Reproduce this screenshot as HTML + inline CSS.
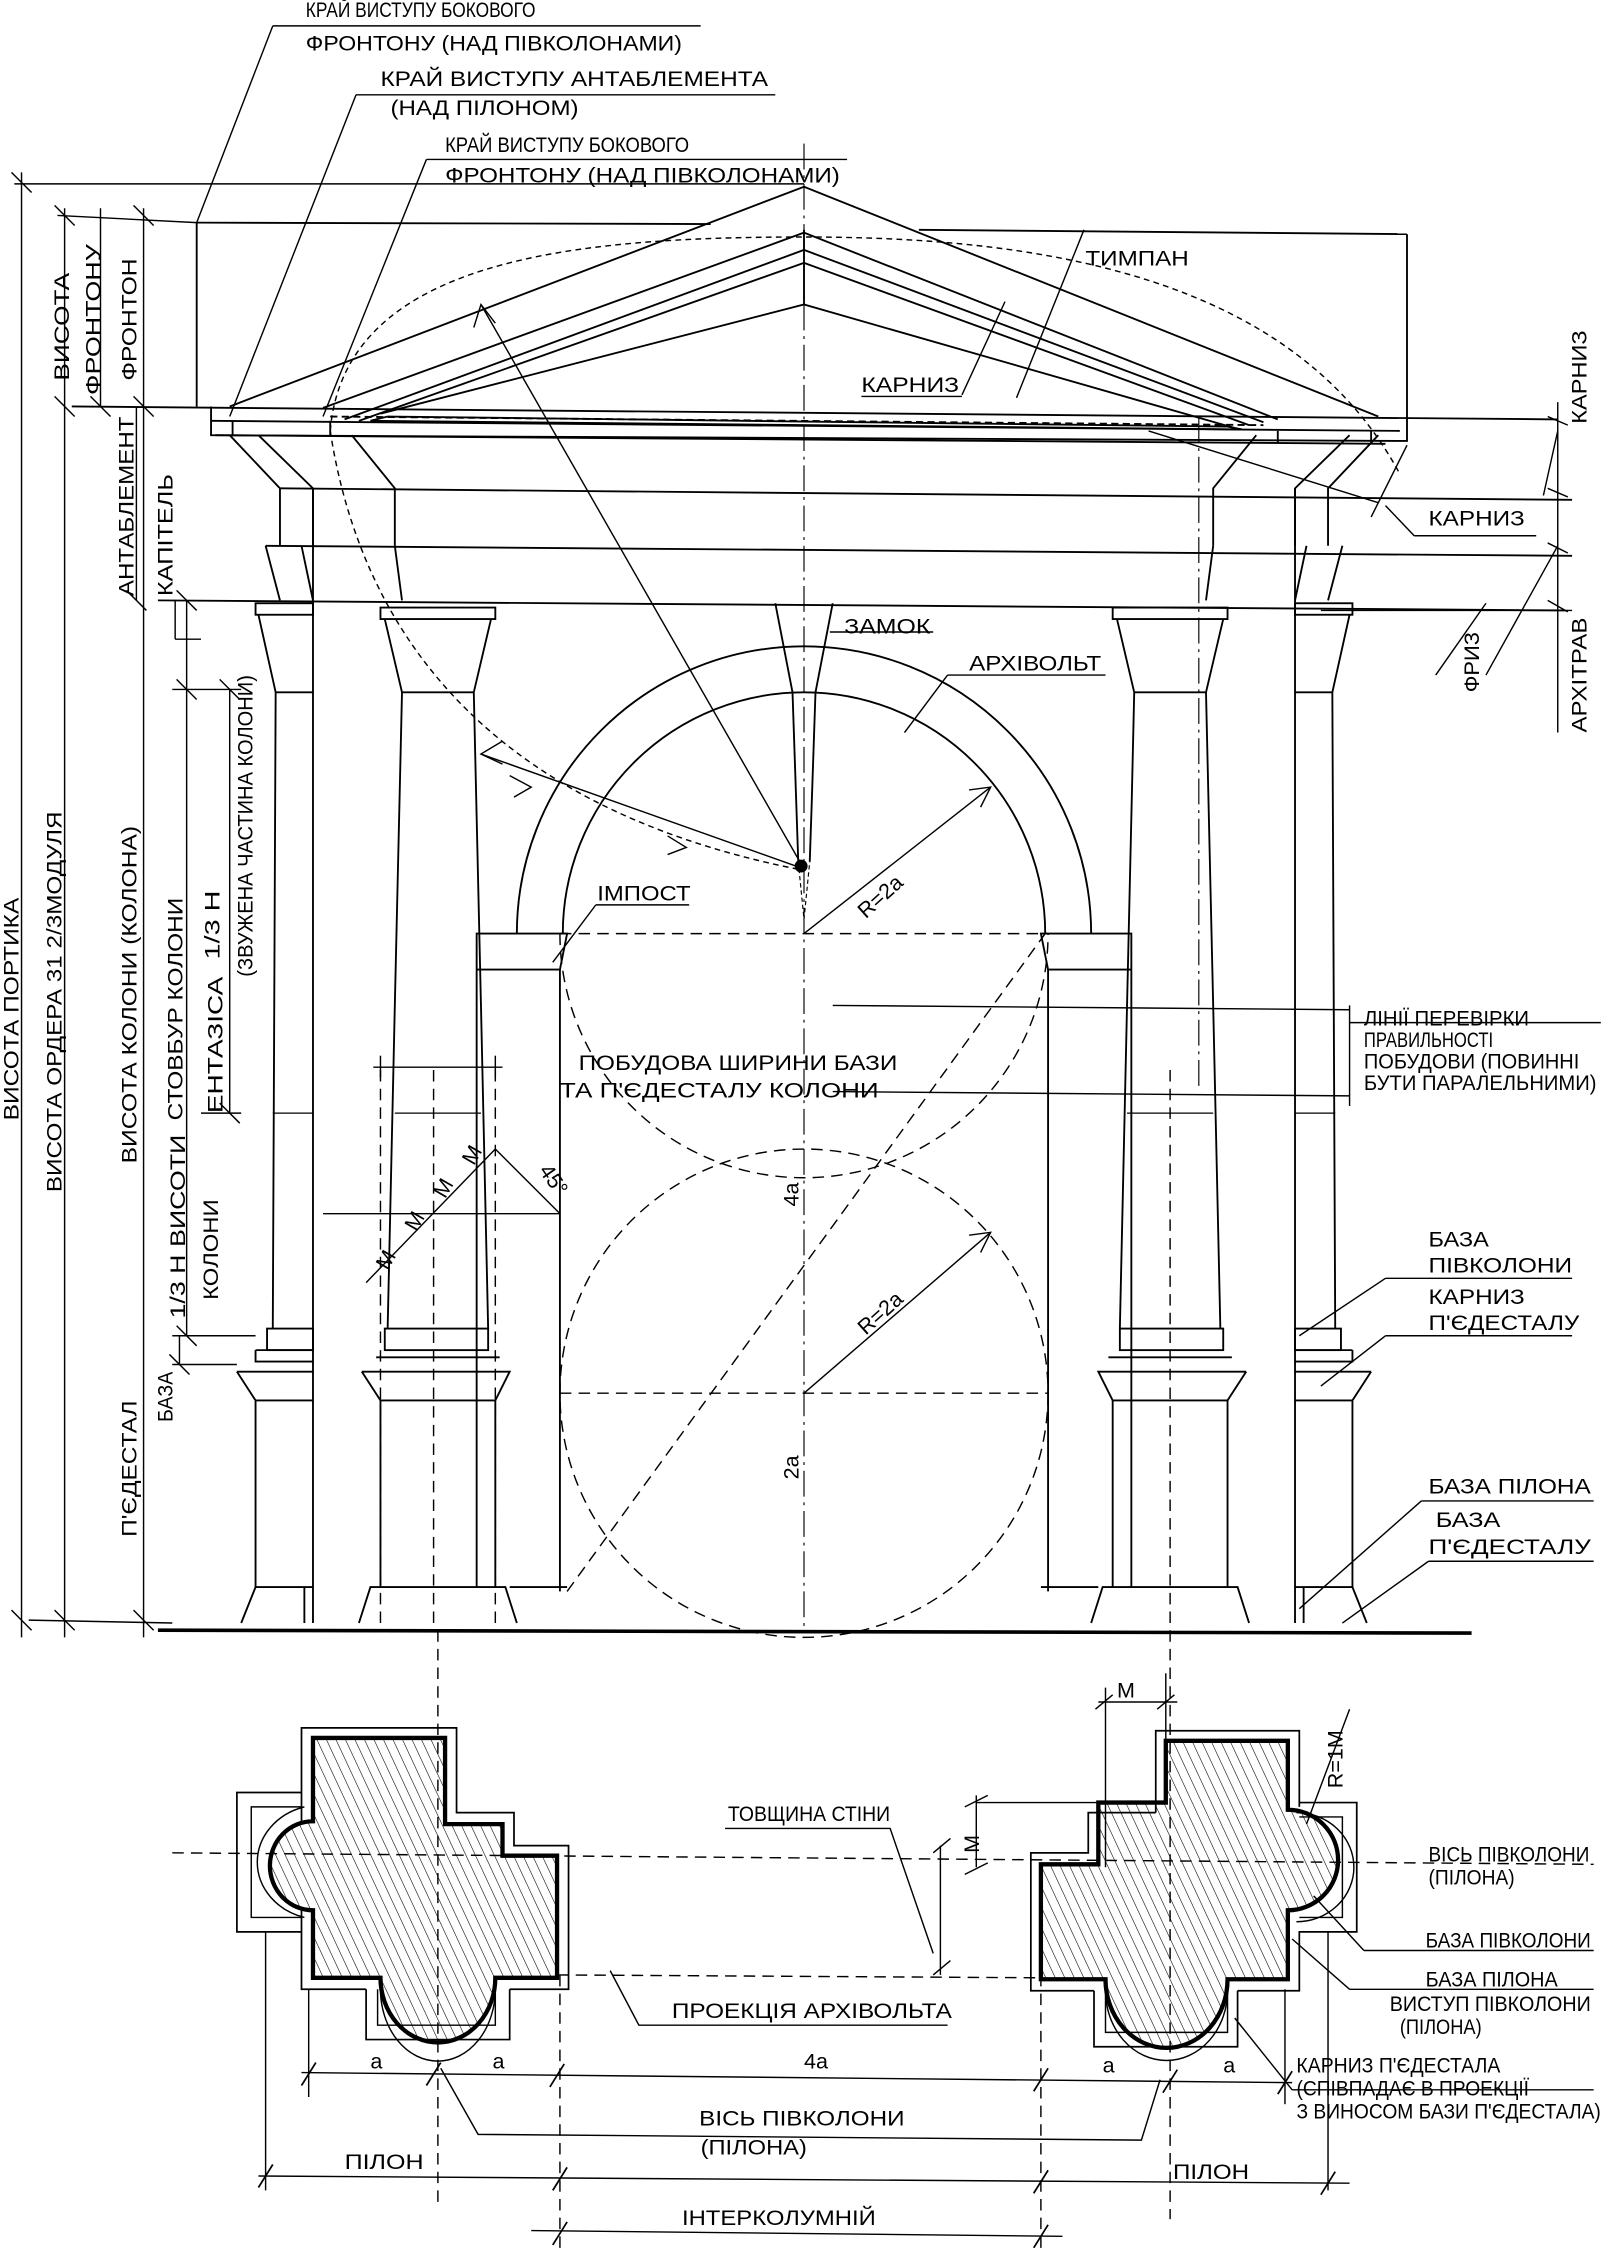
<!DOCTYPE html>
<html><head><meta charset="utf-8"><style>
html,body{margin:0;padding:0;background:#fff}
svg{display:block}
text{font-family:"Liberation Sans Narrow","Liberation Sans",sans-serif;font-size:15px;fill:#000}
.s{font-family:"Liberation Sans",sans-serif}
</style></head><body>
<svg width="1608" height="2255" viewBox="0 0 1120 1570" preserveAspectRatio="none" xmlns="http://www.w3.org/2000/svg">
<defs>
<pattern id="h" width="6" height="6" patternUnits="userSpaceOnUse" patternTransform="rotate(-25)">
<line x1="0" y1="0" x2="0" y2="6" stroke="#000" stroke-width="0.8"/></pattern>
<g id="half" fill="none" stroke="#000" stroke-width="1.3">
 <polyline points="160,303 195,340 195,380"/>
 <polyline points="180,303 218,340 218,380"/>
 <polyline points="245,303 275,340 275,380"/>
 <polyline points="185,380 195,418"/><polyline points="210,380 218,418"/><polyline points="275,380 280,418"/>
 <rect x="178" y="420" width="40" height="8"/>
 <polyline points="180,428 192,482 190,925"/>
 <line x1="192" y1="482" x2="218" y2="482"/>
 <line x1="190" y1="775" x2="218" y2="775" stroke-width="0.8"/>
 <rect x="186" y="925" width="32" height="15"/>
 <line x1="178" y1="940" x2="218" y2="940"/>
 <polyline points="178,940 178,948 218,948"/>
 <polyline points="165,955 178,975 178,1105"/><line x1="165" y1="955" x2="218" y2="955"/>
 <line x1="178" y1="975" x2="218" y2="975"/>
 <polyline points="168,1130 178,1105 218,1105"/><line x1="212" y1="1105" x2="212" y2="1130"/>
 <line x1="218" y1="340" x2="218" y2="1130"/>
 <rect x="265" y="423" width="80" height="8"/>
 <polyline points="268,431 280,482 275,700 270,925"/>
 <polyline points="342,431 330,482 335,700 340,925"/>
 <line x1="280" y1="482" x2="330" y2="482"/>
 <line x1="275" y1="775" x2="335" y2="775" stroke-width="0.8"/>
 <rect x="268" y="925" width="72" height="15"/>
 <line x1="262" y1="945" x2="348" y2="945"/>
 <polyline points="252,955 355,955 345,975 265,975 252,955"/>
 <line x1="265" y1="975" x2="265" y2="1105"/><line x1="345" y1="975" x2="345" y2="1105"/>
 <polyline points="250,1130 258,1105 352,1105 360,1130"/>
 <polyline points="332,1105 332,650 395,650 390,675 332,675"/>
 <line x1="390" y1="675" x2="390" y2="1108"/>
 <line x1="355" y1="1105" x2="395" y2="1105"/>
</g>
</defs>

<g fill="none" stroke="#000" stroke-width="1.3">
<line x1="137" y1="155" x2="495" y2="156"/><line x1="640" y1="160" x2="980" y2="163"/>
<line x1="980" y1="163" x2="980" y2="290"/>
<line x1="137" y1="155" x2="137" y2="283"/>
<polyline points="160,283 560,130 960,290"/>
<polyline points="225,284 560,162 890,292"/>
<polyline points="240,292 560,174 880,294"/>
<polyline points="250,293 560,183 870,296"/>
<polyline points="265,288 560,212 860,298"/>
<line x1="560" y1="160" x2="560" y2="212"/>
<polyline points="258,293 270,290 855,297 865,299 258,293"/>
<line x1="50" y1="283" x2="1085" y2="292"/>
<line x1="147" y1="293" x2="975" y2="300"/>
<polyline points="147,283 147,303 980,307 980,290"/>
<line x1="162" y1="293" x2="162" y2="303"/><line x1="230" y1="293" x2="230" y2="303"/>
<line x1="890" y1="300" x2="890" y2="308"/><line x1="955" y1="300" x2="955" y2="308"/>
<line x1="230" y1="290" x2="880" y2="296" stroke-dasharray="5,3"/>
<line x1="150" y1="303" x2="965" y2="309"/>
<line x1="195" y1="340" x2="1095" y2="348"/>
<line x1="185" y1="380" x2="1095" y2="387"/>
<line x1="110" y1="418" x2="1090" y2="425"/>
<use href="#half"/>
<use href="#half" transform="translate(1120,0) scale(-1,1)"/>
<path d="M360,650 A200,200 0 0 1 760,650"/>
<path d="M392,650 A168,168 0 0 1 728,650"/>
<polyline points="540,420 552,482 556,600"/><polyline points="580,420 568,482 564,600"/>
<polyline points="556,600 560,640 564,600" stroke-width="0.8" stroke-dasharray="3,2"/>
<line x1="110" y1="1135" x2="1025" y2="1137" stroke-width="2.5"/>
</g>

<g fill="none" stroke="#000" stroke-width="1" stroke-dasharray="8,5">
<path d="M390,650 A170,170 0 0 0 730,650"/>
<circle cx="560" cy="970" r="170"/>
<line x1="390" y1="650" x2="730" y2="650"/>
<line x1="390" y1="970" x2="730" y2="970"/>
<line x1="395" y1="1108" x2="728" y2="650"/>
<line x1="305" y1="1135" x2="305" y2="1535"/>
<line x1="815" y1="1135" x2="815" y2="1545"/>
<line x1="302" y1="745" x2="302" y2="1135"/>
<line x1="815" y1="745" x2="815" y2="1135"/>
<line x1="265" y1="745" x2="265" y2="1135"/>
<line x1="345" y1="745" x2="345" y2="1135"/>
<path d="M230,300 C240,180 400,165 560,165 C720,165 900,190 975,330" stroke-dasharray="4,3"/>
<path d="M230,300 C250,430 330,560 555,605" stroke-dasharray="4,3"/>
<line x1="120" y1="1290" x2="1110" y2="1298"/>
<line x1="388" y1="1375" x2="725" y2="1377"/>
</g>
<g fill="none" stroke="#000" stroke-width="0.8" stroke-dasharray="18,4,2,4">
<line x1="560" y1="100" x2="560" y2="1135"/>
<line x1="835" y1="290" x2="835" y2="760"/>
</g>
<g fill="none" stroke="#000" stroke-width="1">
<line x1="560" y1="650" x2="690" y2="548"/><polyline points="675,550 690,548 683,562"/>
<line x1="560" y1="970" x2="690" y2="858"/><polyline points="675,860 690,858 683,872"/>
<line x1="560" y1="605" x2="335" y2="212"/><polyline points="330,228 335,212 345,225"/>
<line x1="560" y1="605" x2="335" y2="525"/><polyline points="350,516 335,525 350,532"/>
<polyline points="355,540 370,548 358,555"/><polyline points="465,582 478,590 465,595"/>
<circle cx="558" cy="603" r="4" fill="#000"/>
<line x1="225" y1="845" x2="390" y2="845"/>
<line x1="345" y1="800" x2="390" y2="845"/>
<line x1="255" y1="893" x2="345" y2="800"/>
<line x1="260" y1="743" x2="350" y2="743"/>
<line x1="265" y1="735" x2="265" y2="750"/><line x1="345" y1="735" x2="345" y2="750"/>
<line x1="755" y1="160" x2="708" y2="277"/>
<line x1="700" y1="210" x2="670" y2="275"/>
<line x1="578" y1="440" x2="650" y2="440"/>
<line x1="660" y1="470" x2="770" y2="470"/><line x1="660" y1="470" x2="630" y2="510"/>
<line x1="415" y1="630" x2="480" y2="630"/><line x1="415" y1="630" x2="385" y2="670"/>
<line x1="580" y1="700" x2="940" y2="703"/><line x1="580" y1="760" x2="940" y2="763"/>
<line x1="940" y1="700" x2="940" y2="770"/><line x1="940" y1="712" x2="1115" y2="712"/>
<line x1="800" y1="300" x2="960" y2="350"/>
<line x1="955" y1="360" x2="980" y2="310"/><line x1="965" y1="352" x2="985" y2="373"/>
<line x1="985" y1="373" x2="1070" y2="373"/>
<line x1="1085" y1="280" x2="1085" y2="510"/>
<line x1="920" y1="425" x2="1095" y2="425"/>
<line x1="1078" y1="290" x2="1092" y2="296"/><line x1="1078" y1="340" x2="1092" y2="346"/>
<line x1="1078" y1="378" x2="1092" y2="385"/><line x1="1078" y1="418" x2="1092" y2="426"/>
<line x1="1035" y1="470" x2="1085" y2="380"/>
<line x1="1075" y1="345" x2="1085" y2="300"/>
<line x1="1035" y1="420" x2="1000" y2="470"/>
<line x1="905" y1="930" x2="965" y2="890"/><line x1="965" y1="890" x2="1095" y2="890"/>
<line x1="920" y1="965" x2="965" y2="930"/><line x1="965" y1="930" x2="1095" y2="930"/>
<line x1="905" y1="1120" x2="990" y2="1045"/><line x1="990" y1="1045" x2="1110" y2="1045"/>
<line x1="935" y1="1130" x2="995" y2="1087"/><line x1="995" y1="1087" x2="1110" y2="1087"/>
<line x1="190" y1="18" x2="488" y2="18"/><line x1="190" y1="18" x2="137" y2="155"/>
<line x1="248" y1="66" x2="540" y2="66"/><line x1="248" y1="66" x2="160" y2="290"/>
<line x1="297" y1="111" x2="590" y2="111"/><line x1="297" y1="111" x2="225" y2="290"/>
<line x1="10" y1="128" x2="560" y2="128"/>
<line x1="40" y1="150" x2="137" y2="155"/>
<line x1="600" y1="276" x2="670" y2="276"/>
<line x1="15" y1="120" x2="15" y2="1140"/>
<line x1="45" y1="145" x2="45" y2="1140"/>
<line x1="70" y1="145" x2="70" y2="283"/>
<line x1="100" y1="145" x2="100" y2="1140"/>
<line x1="95" y1="283" x2="95" y2="418"/>
<line x1="130" y1="418" x2="130" y2="930"/>
<line x1="160" y1="480" x2="160" y2="775"/>
<line x1="125" y1="930" x2="125" y2="950"/>
<line x1="122" y1="418" x2="122" y2="445"/><line x1="122" y1="445" x2="140" y2="445"/>
<line x1="120" y1="480" x2="168" y2="480"/><line x1="140" y1="775" x2="168" y2="775"/>
<line x1="120" y1="930" x2="178" y2="930"/><line x1="120" y1="950" x2="165" y2="950"/>
<line x1="20" y1="1128" x2="120" y2="1130"/>
<line x1="8" y1="120" x2="22" y2="134"/><line x1="38" y1="143" x2="52" y2="157"/><line x1="93" y1="143" x2="107" y2="157"/>
<line x1="38" y1="276" x2="52" y2="290"/><line x1="93" y1="276" x2="107" y2="290"/><line x1="63" y1="276" x2="77" y2="290"/>
<line x1="88" y1="411" x2="102" y2="425"/><line x1="123" y1="411" x2="137" y2="425"/>
<line x1="123" y1="473" x2="137" y2="487"/><line x1="153" y1="473" x2="167" y2="487"/>
<line x1="153" y1="768" x2="167" y2="782"/><line x1="123" y1="923" x2="137" y2="937"/>
<line x1="118" y1="943" x2="132" y2="957"/>
<line x1="8" y1="1121" x2="22" y2="1135"/><line x1="38" y1="1121" x2="52" y2="1135"/><line x1="93" y1="1121" x2="107" y2="1135"/>
</g>

<g stroke="#000" fill="none">
<path d="M218,1210 H310 V1270 H350 V1292 H388 V1377 H345 A40,45 0 0 1 265,1377 H218 V1330 A30,31 0 0 1 218,1268 Z" fill="url(#h)" stroke-width="3"/>
<polyline points="210,1268 210,1203 318,1203 318,1262 358,1262 358,1285 396,1285 396,1385 355,1385" stroke-width="1.2"/>
<polyline points="210,1330 210,1385 255,1385" stroke-width="1.2"/>
<polyline points="210,1248 165,1248 165,1345 210,1345" stroke-width="1.2"/>
<polyline points="210,1258 175,1258 175,1335 210,1335" stroke-width="1"/>
<path d="M212,1258 A45,40 0 0 0 212,1335" stroke-width="1"/>
<polyline points="255,1385 255,1420 355,1420 355,1385" stroke-width="1.2"/>
<polyline points="263,1385 263,1410 345,1410 345,1385" stroke-width="1"/>
<path d="M265,1385 A40,50 0 0 0 345,1385" stroke-width="1"/>
</g>
<g stroke="#000" fill="none">
<path d="M812,1212 H897 V1260 A35,35 0 0 1 897,1330 V1378 H855 A40,45 0 0 1 770,1378 H725 V1298 H765 V1255 H812 Z" fill="url(#h)" stroke-width="3"/>
<polyline points="805,1262 805,1205 905,1205 905,1258" stroke-width="1.2"/>
<polyline points="805,1262 758,1262 758,1290 718,1290 718,1386 762,1386" stroke-width="1.2"/>
<polyline points="905,1255 945,1255 945,1345 905,1345 905,1386 862,1386" stroke-width="1.2"/>
<polyline points="905,1265 935,1265 935,1335 905,1335" stroke-width="1"/>
<path d="M903,1262 A40,38 0 0 1 903,1338" stroke-width="1"/>
<polyline points="762,1386 762,1425 862,1425 862,1386" stroke-width="1.2"/>
<polyline points="770,1386 770,1415 855,1415 855,1386" stroke-width="1"/>
<path d="M770,1386 A42,48 0 0 0 855,1386" stroke-width="1"/>
</g>
<g fill="none" stroke="#000" stroke-width="1">
<line x1="390" y1="1375" x2="390" y2="1568" stroke-dasharray="8,5"/>
<line x1="725" y1="1375" x2="725" y2="1568" stroke-dasharray="8,5"/>
<line x1="215" y1="1385" x2="215" y2="1460"/>
<line x1="895" y1="1385" x2="895" y2="1465"/>
<line x1="185" y1="1345" x2="185" y2="1525"/>
<line x1="925" y1="1345" x2="925" y2="1525"/>
<line x1="210" y1="1443" x2="900" y2="1450"/>
<line x1="180" y1="1515" x2="940" y2="1520"/>
<line x1="370" y1="1553" x2="740" y2="1557"/>
<g stroke-width="1.2">
<line x1="210" y1="1452" x2="220" y2="1436"/><line x1="297" y1="1452" x2="307" y2="1436"/><line x1="383" y1="1453" x2="393" y2="1437"/>
<line x1="720" y1="1456" x2="730" y2="1440"/><line x1="810" y1="1457" x2="820" y2="1441"/><line x1="890" y1="1458" x2="900" y2="1442"/>
<line x1="180" y1="1523" x2="190" y2="1507"/><line x1="385" y1="1525" x2="395" y2="1509"/><line x1="720" y1="1527" x2="730" y2="1511"/><line x1="920" y1="1528" x2="930" y2="1512"/>
<line x1="385" y1="1563" x2="395" y2="1547"/><line x1="720" y1="1565" x2="730" y2="1549"/>
</g>
<polyline points="307,1440 333,1486 795,1490 808,1448"/>
<polyline points="425,1372 445,1410 660,1410"/>
<polyline points="505,1273 620,1273 650,1360"/>
<line x1="655" y1="1285" x2="655" y2="1375"/>
<line x1="650" y1="1290" x2="662" y2="1280"/><line x1="650" y1="1375" x2="662" y2="1365"/>
<line x1="680" y1="1250" x2="680" y2="1300"/><line x1="672" y1="1258" x2="688" y2="1250"/><line x1="672" y1="1305" x2="688" y2="1297"/>
<line x1="680" y1="1255" x2="765" y2="1255"/>
<line x1="770" y1="1175" x2="770" y2="1300"/><line x1="812" y1="1165" x2="812" y2="1212"/>
<line x1="765" y1="1185" x2="820" y2="1185"/>
<line x1="763" y1="1190" x2="775" y2="1180"/><line x1="806" y1="1190" x2="818" y2="1180"/>
<line x1="940" y1="1190" x2="910" y2="1270"/>
<line x1="915" y1="1320" x2="950" y2="1358"/><line x1="950" y1="1358" x2="1110" y2="1358"/>
<line x1="900" y1="1350" x2="940" y2="1385"/><line x1="940" y1="1385" x2="1110" y2="1385"/>
<line x1="860" y1="1405" x2="900" y2="1455"/><line x1="900" y1="1455" x2="1110" y2="1455"/>
</g>

<!-- TEXT -->
<g lengthAdjust="spacingAndGlyphs">
<text x="213" y="12" textLength="160" lengthAdjust="spacingAndGlyphs">КРАЙ ВИСТУПУ БОКОВОГО</text>
<text x="213" y="35" textLength="262" lengthAdjust="spacingAndGlyphs">ФРОНТОНУ (НАД ПІВКОЛОНАМИ)</text>
<text x="265" y="60" textLength="270" lengthAdjust="spacingAndGlyphs">КРАЙ ВИСТУПУ АНТАБЛЕМЕНТА</text>
<text x="272" y="80" textLength="131" lengthAdjust="spacingAndGlyphs">(НАД ПІЛОНОМ)</text>
<text x="310" y="106" textLength="170" lengthAdjust="spacingAndGlyphs">КРАЙ ВИСТУПУ БОКОВОГО</text>
<text x="310" y="127" textLength="275" lengthAdjust="spacingAndGlyphs">ФРОНТОНУ (НАД ПІВКОЛОНАМИ)</text>
<text x="756" y="185" textLength="72" lengthAdjust="spacingAndGlyphs">ТИМПАН</text>
<text x="600" y="273" textLength="68" lengthAdjust="spacingAndGlyphs">КАРНИЗ</text>
<text x="995" y="366" textLength="67" lengthAdjust="spacingAndGlyphs">КАРНИЗ</text>
<text x="588" y="441" textLength="60" lengthAdjust="spacingAndGlyphs">ЗАМОК</text>
<text x="675" y="467" textLength="92" lengthAdjust="spacingAndGlyphs">АРХІВОЛЬТ</text>
<text x="416" y="627" textLength="65" lengthAdjust="spacingAndGlyphs">ІМПОСТ</text>
<text x="403" y="745" textLength="222" lengthAdjust="spacingAndGlyphs">ПОБУДОВА ШИРИНИ БАЗИ</text>
<text x="390" y="764" textLength="222" lengthAdjust="spacingAndGlyphs">ТА П'ЄДЕСТАЛУ КОЛОНИ</text>
<text x="950" y="714" font-size="13" textLength="115" lengthAdjust="spacingAndGlyphs">ЛІНІЇ ПЕРЕВІРКИ</text>
<text x="950" y="729" font-size="13" textLength="90" lengthAdjust="spacingAndGlyphs">ПРАВИЛЬНОСТІ</text>
<text x="950" y="744" font-size="13" textLength="150" lengthAdjust="spacingAndGlyphs">ПОБУДОВИ (ПОВИННІ</text>
<text x="950" y="759" font-size="13" textLength="162" lengthAdjust="spacingAndGlyphs">БУТИ ПАРАЛЕЛЬНИМИ)</text>
<text x="995" y="868" textLength="42" lengthAdjust="spacingAndGlyphs">БАЗА</text>
<text x="995" y="886" textLength="100" lengthAdjust="spacingAndGlyphs">ПІВКОЛОНИ</text>
<text x="995" y="908" textLength="67" lengthAdjust="spacingAndGlyphs">КАРНИЗ</text>
<text x="995" y="926" textLength="105" lengthAdjust="spacingAndGlyphs">П'ЄДЕСТАЛУ</text>
<text x="995" y="1040" textLength="113" lengthAdjust="spacingAndGlyphs">БАЗА ПІЛОНА</text>
<text x="1000" y="1063" textLength="45" lengthAdjust="spacingAndGlyphs">БАЗА</text>
<text x="995" y="1082" textLength="113" lengthAdjust="spacingAndGlyphs">П'ЄДЕСТАЛУ</text>
</g>
<text class="s" font-size="12" transform="translate(603,640) rotate(-42)">R=2a</text>
<text class="s" font-size="12" transform="translate(603,930) rotate(-42)">R=2a</text>
<text class="s" font-size="12" transform="translate(556,840) rotate(-90)">4a</text>
<text class="s" font-size="12" transform="translate(556,1030) rotate(-90)">2a</text>
<text class="s" font-size="10" transform="translate(375,815) rotate(55)">45°</text>
<g class="s" font-size="12">
<text transform="translate(270,885) rotate(-60)">M</text>
<text transform="translate(290,858) rotate(-60)">M</text>
<text transform="translate(310,835) rotate(-60)">M</text>
<text transform="translate(330,812) rotate(-60)">M</text>
</g>
<g class="s" font-size="15">
<text transform="translate(13,780) rotate(-90)" textLength="155" lengthAdjust="spacingAndGlyphs">ВИСОТА ПОРТИКА</text>
<text transform="translate(43,830) rotate(-90)" textLength="265" lengthAdjust="spacingAndGlyphs">ВИСОТА ОРДЕРА 31 2/3МОДУЛЯ</text>
<text transform="translate(48,265) rotate(-90)" textLength="75" lengthAdjust="spacingAndGlyphs">ВИСОТА</text>
<text transform="translate(70,275) rotate(-90)" textLength="105" lengthAdjust="spacingAndGlyphs">ФРОНТОНУ</text>
<text transform="translate(95,265) rotate(-90)" textLength="85" lengthAdjust="spacingAndGlyphs">ФРОНТОН</text>
<text transform="translate(95,810) rotate(-90)" textLength="235" lengthAdjust="spacingAndGlyphs">ВИСОТА КОЛОНИ (КОЛОНА)</text>
<text transform="translate(93,415) rotate(-90)" textLength="125" lengthAdjust="spacingAndGlyphs">АНТАБЛЕМЕНТ</text>
<text transform="translate(120,415) rotate(-90)" textLength="85" lengthAdjust="spacingAndGlyphs">КАПІТЕЛЬ</text>
<text transform="translate(127,780) rotate(-90)" textLength="155" lengthAdjust="spacingAndGlyphs">СТОВБУР КОЛОНИ</text>
<text transform="translate(153,668) rotate(-90)" textLength="48" lengthAdjust="spacingAndGlyphs">1/3 H</text>
<text transform="translate(155,775) rotate(-90)" textLength="95" lengthAdjust="spacingAndGlyphs">ЕНТАЗІСА</text>
<text transform="translate(129,918) rotate(-90)" textLength="128" lengthAdjust="spacingAndGlyphs">1/3 Н ВИСОТИ</text>
<text transform="translate(152,905) rotate(-90)" textLength="70" lengthAdjust="spacingAndGlyphs">КОЛОНИ</text>
<text transform="translate(120,990) rotate(-90)" textLength="35" lengthAdjust="spacingAndGlyphs">БАЗА</text>
<text transform="translate(95,1070) rotate(-90)" textLength="95" lengthAdjust="spacingAndGlyphs">П'ЄДЕСТАЛ</text>
<text transform="translate(1105,295) rotate(-90)" textLength="65" lengthAdjust="spacingAndGlyphs">КАРНИЗ</text>
<text transform="translate(1105,510) rotate(-90)" textLength="80" lengthAdjust="spacingAndGlyphs">АРХІТРАВ</text>
<text transform="translate(1030,482) rotate(-90)" textLength="42" lengthAdjust="spacingAndGlyphs">ФРИЗ</text>
</g>
<text class="s" font-size="9" transform="translate(176,680) rotate(-90)" textLength="210" lengthAdjust="spacingAndGlyphs">(ЗВУЖЕНА ЧАСТИНА КОЛОНИ)</text>
<g font-size="13">
<text x="507" y="1268" textLength="113" lengthAdjust="spacingAndGlyphs">ТОВЩИНА СТІНИ</text>
<text x="995" y="1296" textLength="112" lengthAdjust="spacingAndGlyphs">ВІСЬ ПІВКОЛОНИ</text>
<text x="995" y="1312" textLength="60" lengthAdjust="spacingAndGlyphs">(ПІЛОНА)</text>
<text x="993" y="1356" textLength="115" lengthAdjust="spacingAndGlyphs">БАЗА ПІВКОЛОНИ</text>
<text x="993" y="1383" textLength="92" lengthAdjust="spacingAndGlyphs">БАЗА ПІЛОНА</text>
<text x="968" y="1400" textLength="140" lengthAdjust="spacingAndGlyphs">ВИСТУП ПІВКОЛОНИ</text>
<text x="975" y="1416" textLength="57" lengthAdjust="spacingAndGlyphs">(ПІЛОНА)</text>
<text x="903" y="1443" textLength="142" lengthAdjust="spacingAndGlyphs">КАРНИЗ П'ЄДЕСТАЛА</text>
<text x="903" y="1459" textLength="162" lengthAdjust="spacingAndGlyphs">(СПІВПАДАЄ В ПРОЕКЦІЇ</text>
<text x="903" y="1475" textLength="212" lengthAdjust="spacingAndGlyphs">З ВИНОСОМ БАЗИ П'ЄДЕСТАЛА)</text>
</g>
<text x="468" y="1405" textLength="195" lengthAdjust="spacingAndGlyphs">ПРОЕКЦІЯ АРХІВОЛЬТА</text>
<text x="778" y="1182" class="s" font-size="20">M</text>
<text class="s" font-size="20" transform="translate(682,1290) rotate(-90)">M</text>
<text class="s" font-size="13" transform="translate(935,1245) rotate(-90)">R=1M</text>
<g class="s" font-size="12">
<text x="258" y="1440">a</text><text x="343" y="1440">a</text><text x="560" y="1440">4a</text>
<text x="768" y="1443">a</text><text x="852" y="1443">a</text>
</g>
<text x="487" y="1480" textLength="143" lengthAdjust="spacingAndGlyphs">ВІСЬ ПІВКОЛОНИ</text>
<text x="488" y="1500" textLength="74" lengthAdjust="spacingAndGlyphs">(ПІЛОНА)</text>
<text x="240" y="1510" textLength="55" lengthAdjust="spacingAndGlyphs">ПІЛОН</text>
<text x="817" y="1517" textLength="53" lengthAdjust="spacingAndGlyphs">ПІЛОН</text>
<text x="475" y="1549" textLength="135" lengthAdjust="spacingAndGlyphs">ІНТЕРКОЛУМНІЙ</text>
</svg>
</body></html>
